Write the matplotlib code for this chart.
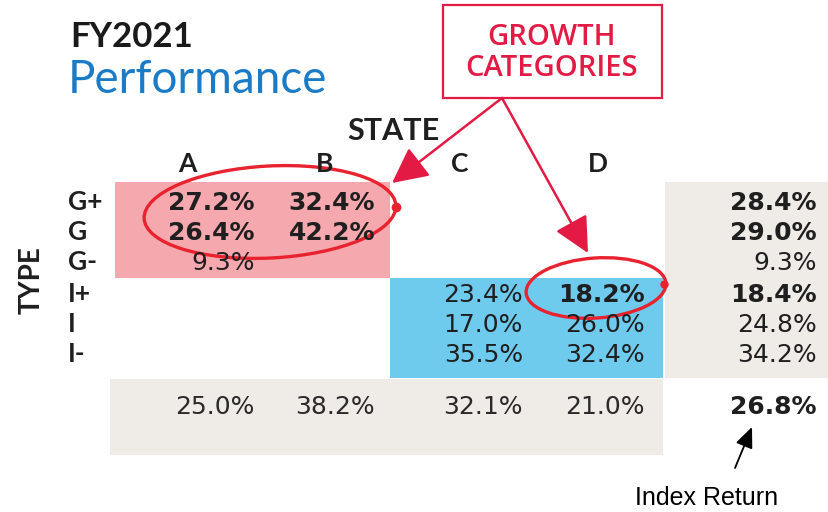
import matplotlib
matplotlib.use('Agg')
import matplotlib.pyplot as plt
from matplotlib.patches import Rectangle, Ellipse, FancyArrowPatch

# data
states = ['A', 'B', 'C', 'D']
types = ['G+', 'G', 'G-', 'I+', 'I', 'I-']
col_a = [27.2, 26.4, 9.3, None, None, None]
col_b = [32.4, 42.2, None, None, None, None]
col_c = [None, None, None, 23.4, 17.0, 35.5]
col_d = [None, None, None, 18.2, 26.0, 32.4]
row_totals = [28.4, 29.0, 9.3, 18.4, 24.8, 34.2]
col_totals = [25.0, 38.2, 32.1, 21.0]
index_return = 26.8
bold_cells = [(0, 0), (0, 1), (1, 0), (1, 1), (3, 3)]   # (row, col)
bold_totals = [0, 1, 3]

# layout (pixel space)
col_x = [187, 325, 460, 598]          # header centres
col_right = [255, 375, 523, 645]      # right edge of numbers
total_right = 817
row_base = [210, 240, 270, 302, 332, 362]
bottom_base = 414

red = '#e31b44'
ring = '#e8232f'
txt = '#1f1f1f'
NUM = 'DejaVu Sans'
LAB = ['Lato', 'DejaVu Sans']

fig = plt.figure(figsize=(8.29, 5.12), dpi=100)
ax = fig.add_axes([0, 0, 1, 1])
ax.set_xlim(0, 829)
ax.set_ylim(512, 0)
ax.axis('off')

# background blocks
ax.add_patch(Rectangle((115, 182), 275, 96, color='#f5a8ae', lw=0))
ax.add_patch(Rectangle((390, 278), 273, 100, color='#6fcbee', lw=0))
ax.add_patch(Rectangle((665, 182), 170, 196, color='#efebe7', lw=0))
ax.add_patch(Rectangle((110, 379), 553, 76, color='#efebe7', lw=0))

# titles
ax.text(70, 47, 'FY2021', family=LAB, weight='bold', fontsize=25, color='#1a1a1a')
ax.text(68, 93, 'Performance', family=LAB, weight='normal', fontsize=33, color='#1b7bc6')
ax.text(393, 140, 'STATE', family=LAB, weight='bold', fontsize=22, color=txt, ha='center')
ax.text(32, 280, 'TYPE', family=LAB, weight='bold', fontsize=20, color=txt,
        ha='center', va='center', rotation=90)

for x, s in zip(col_x, states):
    ax.text(x, 172, s, family=LAB, weight='bold', fontsize=19, color=txt, ha='center')
for y, t in zip(row_base, types):
    ax.text(68, y, t, family=LAB, weight='bold', fontsize=19, color=txt)

# cells
cols = [col_a, col_b, col_c, col_d]
for j, col in enumerate(cols):
    for i, v in enumerate(col):
        if v is None:
            continue
        w = 'bold' if (i, j) in bold_cells else 'normal'
        ax.text(col_right[j], row_base[i], f'{v:.1f}%', family=NUM, weight=w,
                fontsize=18, color=txt, ha='right')

for i, v in enumerate(row_totals):
    w = 'bold' if i in bold_totals else 'normal'
    ax.text(total_right, row_base[i], f'{v:.1f}%', family=NUM, weight=w,
            fontsize=18, color=txt, ha='right')

for j, v in enumerate(col_totals):
    ax.text(col_right[j], bottom_base, f'{v:.1f}%', family=NUM, fontsize=18,
            color='#2a2a2a', ha='right')
ax.text(total_right, bottom_base, f'{index_return:.1f}%', family=NUM, weight='bold',
        fontsize=18, color=txt, ha='right')

# red call-outs
ax.add_patch(Ellipse((270, 212), 252, 92, angle=-3, fill=False, ec=ring, lw=2.4))
ax.plot([396], [207], 'o', color=ring, ms=6)
ax.add_patch(Ellipse((596, 288), 140, 60, angle=-4, fill=False, ec=ring, lw=2.4))
ax.plot([664], [284], 'o', color=ring, ms=5)

ax.add_patch(Rectangle((443, 5), 219, 93, fill=False, ec=red, lw=1.6))
ax.text(552, 45, 'GROWTH', family=['Open Sans', 'DejaVu Sans'], weight='semibold',
        fontsize=21, color=red, ha='center')
ax.text(552, 76, 'CATEGORIES', family=['Open Sans', 'DejaVu Sans'], weight='semibold',
        fontsize=21, color=red, ha='center')

for end in [(392, 183), (588, 253)]:
    ax.add_patch(FancyArrowPatch((502, 98), end, arrowstyle='-|>,head_length=1.0,head_width=0.5',
                                 mutation_scale=22, color=red, lw=1.8,
                                 shrinkA=0, shrinkB=0))

# index return note
ax.add_patch(FancyArrowPatch((735, 468), (752, 427), arrowstyle='-|>,head_length=0.7,head_width=0.3',
                             mutation_scale=18, color='black', lw=1.3,
                             shrinkA=0, shrinkB=0))
ax.text(707, 498, 'Index Return', family=['Liberation Sans Narrow', 'Liberation Sans'],
        fontsize=18, stretch='condensed', color='black', ha='center', va='center')

fig.savefig('out.png', dpi=100)
